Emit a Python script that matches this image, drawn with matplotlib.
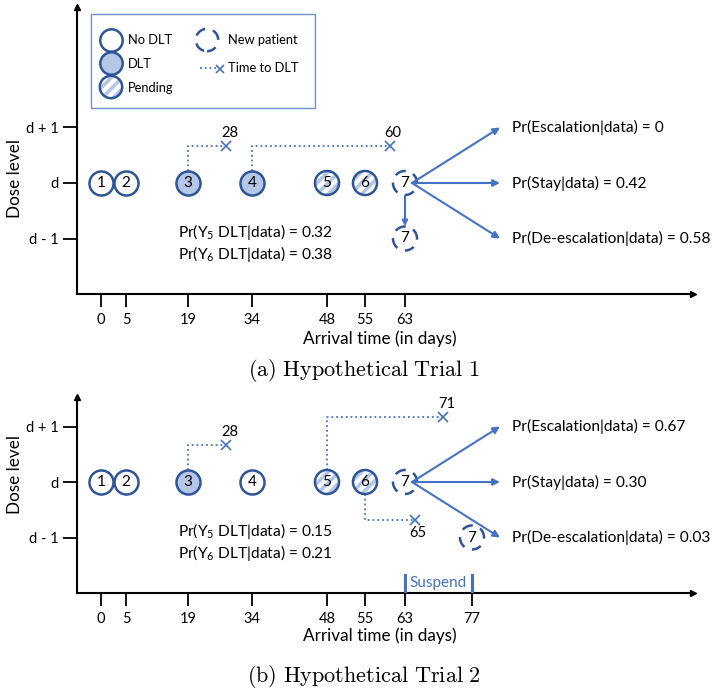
import numpy as np
import matplotlib
matplotlib.use("Agg")
import matplotlib.pyplot as plt
from matplotlib.patches import Rectangle

# ---------------------- Data ----------------------

patient_ids = [1, 2, 3, 4, 5, 6, 7]
arrival_days = [0, 5, 19, 34, 48, 55, 63]
trial1_status = ["none", "none", "dlt", "dlt", "pending", "pending", "new"]
trial2_status = ["none", "none", "dlt", "none", "pending", "pending", "new"]

# (arrival day, day of DLT, height of the dotted connector in dose levels)
trial1_dlt = [(19, 28, 0.67), (34, 60, 0.67)]
trial2_dlt = [(19, 28, 0.67), (48, 71, 1.17), (55, 65, -0.68)]

trial1_pending_prob = ["0.32", "0.38"]
trial2_pending_prob = ["0.15", "0.21"]

decisions = ["Escalation", "Stay", "De-escalation"]
decision_levels = [1, 0, -1]
trial1_decision_prob = ["0", "0.42", "0.58"]
trial2_decision_prob = ["0.67", "0.30", "0.03"]

trial1_ticks = [0, 5, 19, 34, 48, 55, 63]
trial2_ticks = [0, 5, 19, 34, 48, 55, 63, 77]
suspend_window = [63, 77]
dose_ticks = [-1, 0, 1]
dose_labels = ["d - 1", "d", "d + 1"]

# ---------------------- Style ----------------------

DARK = "#2F5597"
LIGHT = "#B4C7E7"
BLUE = "#4472C4"
W, H = 716, 693

plt.rcParams["font.family"] = ["Lato", "DejaVu Sans"]
plt.rcParams["mathtext.fontset"] = "custom"
plt.rcParams["mathtext.rm"] = "Lato"
plt.rcParams["hatch.color"] = LIGHT
plt.rcParams["hatch.linewidth"] = 2.6

# the time axis in the sketch is schematic, not linear: piecewise map day -> pixel
knot_days = [-30, 0, 5, 19, 34, 48, 55, 63, 77, 200]
knot_px = [-46, 101, 126, 188, 252, 327, 365, 405, 472, 1062]


def day_to_px(d):
    return np.interp(d, knot_days, knot_px)


def px_to_day(p):
    return np.interp(p, knot_px, knot_days)


fig = plt.figure(figsize=(W / 100, H / 100), dpi=100)


def add_axes_px(left, top, right, bottom):
    return fig.add_axes([left / W, 1 - bottom / H, (right - left) / W, (bottom - top) / H])


def draw_circles(ax, xs, ys, status, size=300):
    if status == "none":
        ax.scatter(xs, ys, s=size, facecolor="white", edgecolor=DARK, linewidth=1.8, zorder=3)
    elif status == "dlt":
        ax.scatter(xs, ys, s=size, facecolor=LIGHT, edgecolor=DARK, linewidth=1.8, zorder=3)
    elif status == "pending":
        ax.scatter(xs, ys, s=size, facecolor="white", edgecolor=LIGHT, hatch="///",
                   linewidth=0, zorder=3)
        ax.scatter(xs, ys, s=size, facecolor="none", edgecolor=DARK, linewidth=1.8, zorder=4)
    else:
        ax.scatter(xs, ys, s=size, facecolor="white", edgecolor=DARK, linewidth=1.8,
                   linestyle=(0.6, (4.5, 3.2)), zorder=3)


def draw_trial(rect, d_px, status, dlt, pending_prob, decision_prob, ticks, new_day, suspend):
    left, top, right, bottom = rect
    step = 55.5
    ax = add_axes_px(left, top, right, bottom)
    ax.set_xscale("function", functions=(day_to_px, px_to_day))
    ax.set_xlim(px_to_day(left), px_to_day(right))
    ax.set_ylim(-(bottom - d_px) / step, (d_px - top) / step)

    for s in ["top", "right"]:
        ax.spines[s].set_visible(False)
    for s in ["left", "bottom"]:
        ax.spines[s].set_linewidth(1.5)
    ax.plot(1, 0, ">k", ms=5, transform=ax.transAxes, clip_on=False)
    ax.plot(0, 1, "^k", ms=5, transform=ax.transAxes, clip_on=False)

    ax.set_xticks(ticks)
    ax.set_xticklabels([str(t) for t in ticks])
    ax.set_yticks(dose_ticks)
    ax.set_yticklabels(dose_labels)
    ax.tick_params(axis="x", length=9, width=1.3, pad=5, labelsize=10.5)
    ax.tick_params(axis="y", length=10, width=1.3, pad=3, labelsize=10.5)
    ax.minorticks_off()

    # patients at current dose
    for st in ["none", "dlt", "pending", "new"]:
        xs = [d for d, s in zip(arrival_days, status) if s == st]
        draw_circles(ax, xs, [0] * len(xs), st)
    for pid, d in zip(patient_ids, arrival_days):
        ax.text(d, 0, str(pid), ha="center", va="center", fontsize=11, zorder=5)

    # time to DLT connectors
    for start, end, h in dlt:
        sign = 1 if h > 0 else -1
        ax.plot([start, start, end], [0.21 * sign, h, h], ":", color=BLUE, lw=1.3, zorder=2)
        ax.plot(end, h, "x", color=BLUE, ms=7, mew=1.2, zorder=2)
        ax.annotate(str(end), (end, h), xytext=(3, 13 * sign), textcoords="offset pixels",
                    ha="center", va="center", fontsize=10.5)

    # pending probabilities
    for i, (pid, p) in enumerate(zip([5, 6], pending_prob)):
        ax.text(px_to_day(178), -0.88 - 0.4 * i,
                "Pr(Y$_{\\mathrm{%d}}$ DLT|data) = %s" % (pid, p),
                ha="left", va="center", fontsize=11.2)

    # decision arrows
    for name, lvl, p in zip(decisions, decision_levels, decision_prob):
        ax.annotate("", xy=(px_to_day(500), lvl), xytext=(px_to_day(412), 0),
                    arrowprops=dict(arrowstyle="-|>", color=BLUE, lw=1.5,
                                    mutation_scale=10, shrinkA=0, shrinkB=0))
        ax.text(px_to_day(512), lvl, "Pr(%s|data) = %s" % (name, p),
                ha="left", va="center", fontsize=11.2)

    draw_circles(ax, [new_day], [-1], "new")
    ax.text(new_day, -1, "7", ha="center", va="center", fontsize=11, zorder=5)
    if new_day == arrival_days[-1]:
        ax.annotate("", xy=(new_day, -0.78), xytext=(new_day, -0.23),
                    arrowprops=dict(arrowstyle="-|>", color=BLUE, lw=1.5,
                                    mutation_scale=8, shrinkA=0, shrinkB=0))

    if suspend:
        y0 = ax.get_ylim()[0]
        for d in suspend_window:
            ax.plot([d, d], [y0, y0 + 0.33], color=BLUE, lw=2.2, zorder=4)
        ax.text(np.mean(suspend_window), y0 + 0.18, "Suspend", color=BLUE,
                ha="center", va="center", fontsize=11)
    return ax


ax1 = draw_trial((77, 7, 693, 294), 183, trial1_status, trial1_dlt, trial1_pending_prob,
                 trial1_decision_prob, trial1_ticks, 63, False)
ax2 = draw_trial((77, 397, 693, 593), 482, trial2_status, trial2_dlt, trial2_pending_prob,
                 trial2_decision_prob, trial2_ticks, 77, True)

# overlay in pixel coordinates for labels, captions and the key
ov = fig.add_axes([0, 0, 1, 1])
ov.set_xlim(0, W)
ov.set_ylim(H, 0)
ov.axis("off")

for yc in [178, 475]:
    ov.text(15, yc, "Dose level", rotation=90, ha="center", va="center", fontsize=12.3)
for yc in [339, 636]:
    ov.text(380, yc, "Arrival time (in days)", ha="center", va="center", fontsize=12.3)
for yc, cap in [(370, "(a)\\ Hypothetical\\ Trial\\ 1"), (677, "(b)\\ Hypothetical\\ Trial\\ 2")]:
    ov.text(364, yc, "$\\mathrm{%s}$" % cap, ha="center", va="center", fontsize=16,
            math_fontfamily="cm")

# key
ov.add_patch(Rectangle((91, 14), 224, 94, facecolor="white", edgecolor="#6F8FC9", lw=1))
key_size = 260
draw_circles(ov, [111], [40], "none", key_size)
draw_circles(ov, [111], [63], "dlt", key_size)
draw_circles(ov, [111], [87], "pending", key_size)
draw_circles(ov, [207], [40], "new", key_size)
ov.plot([200, 217], [68, 68], ":", color=BLUE, lw=1.3)
ov.plot([220], [69], "x", color=BLUE, ms=6, mew=1.2)
for x, y, t in [(128, 40, "No DLT"), (128, 64, "DLT"), (128, 88, "Pending"),
                (228, 40, "New patient"), (228, 68, "Time to DLT")]:
    ov.text(x, y, t, ha="left", va="center", fontsize=9.3)

fig.savefig("out.png", dpi=100)
